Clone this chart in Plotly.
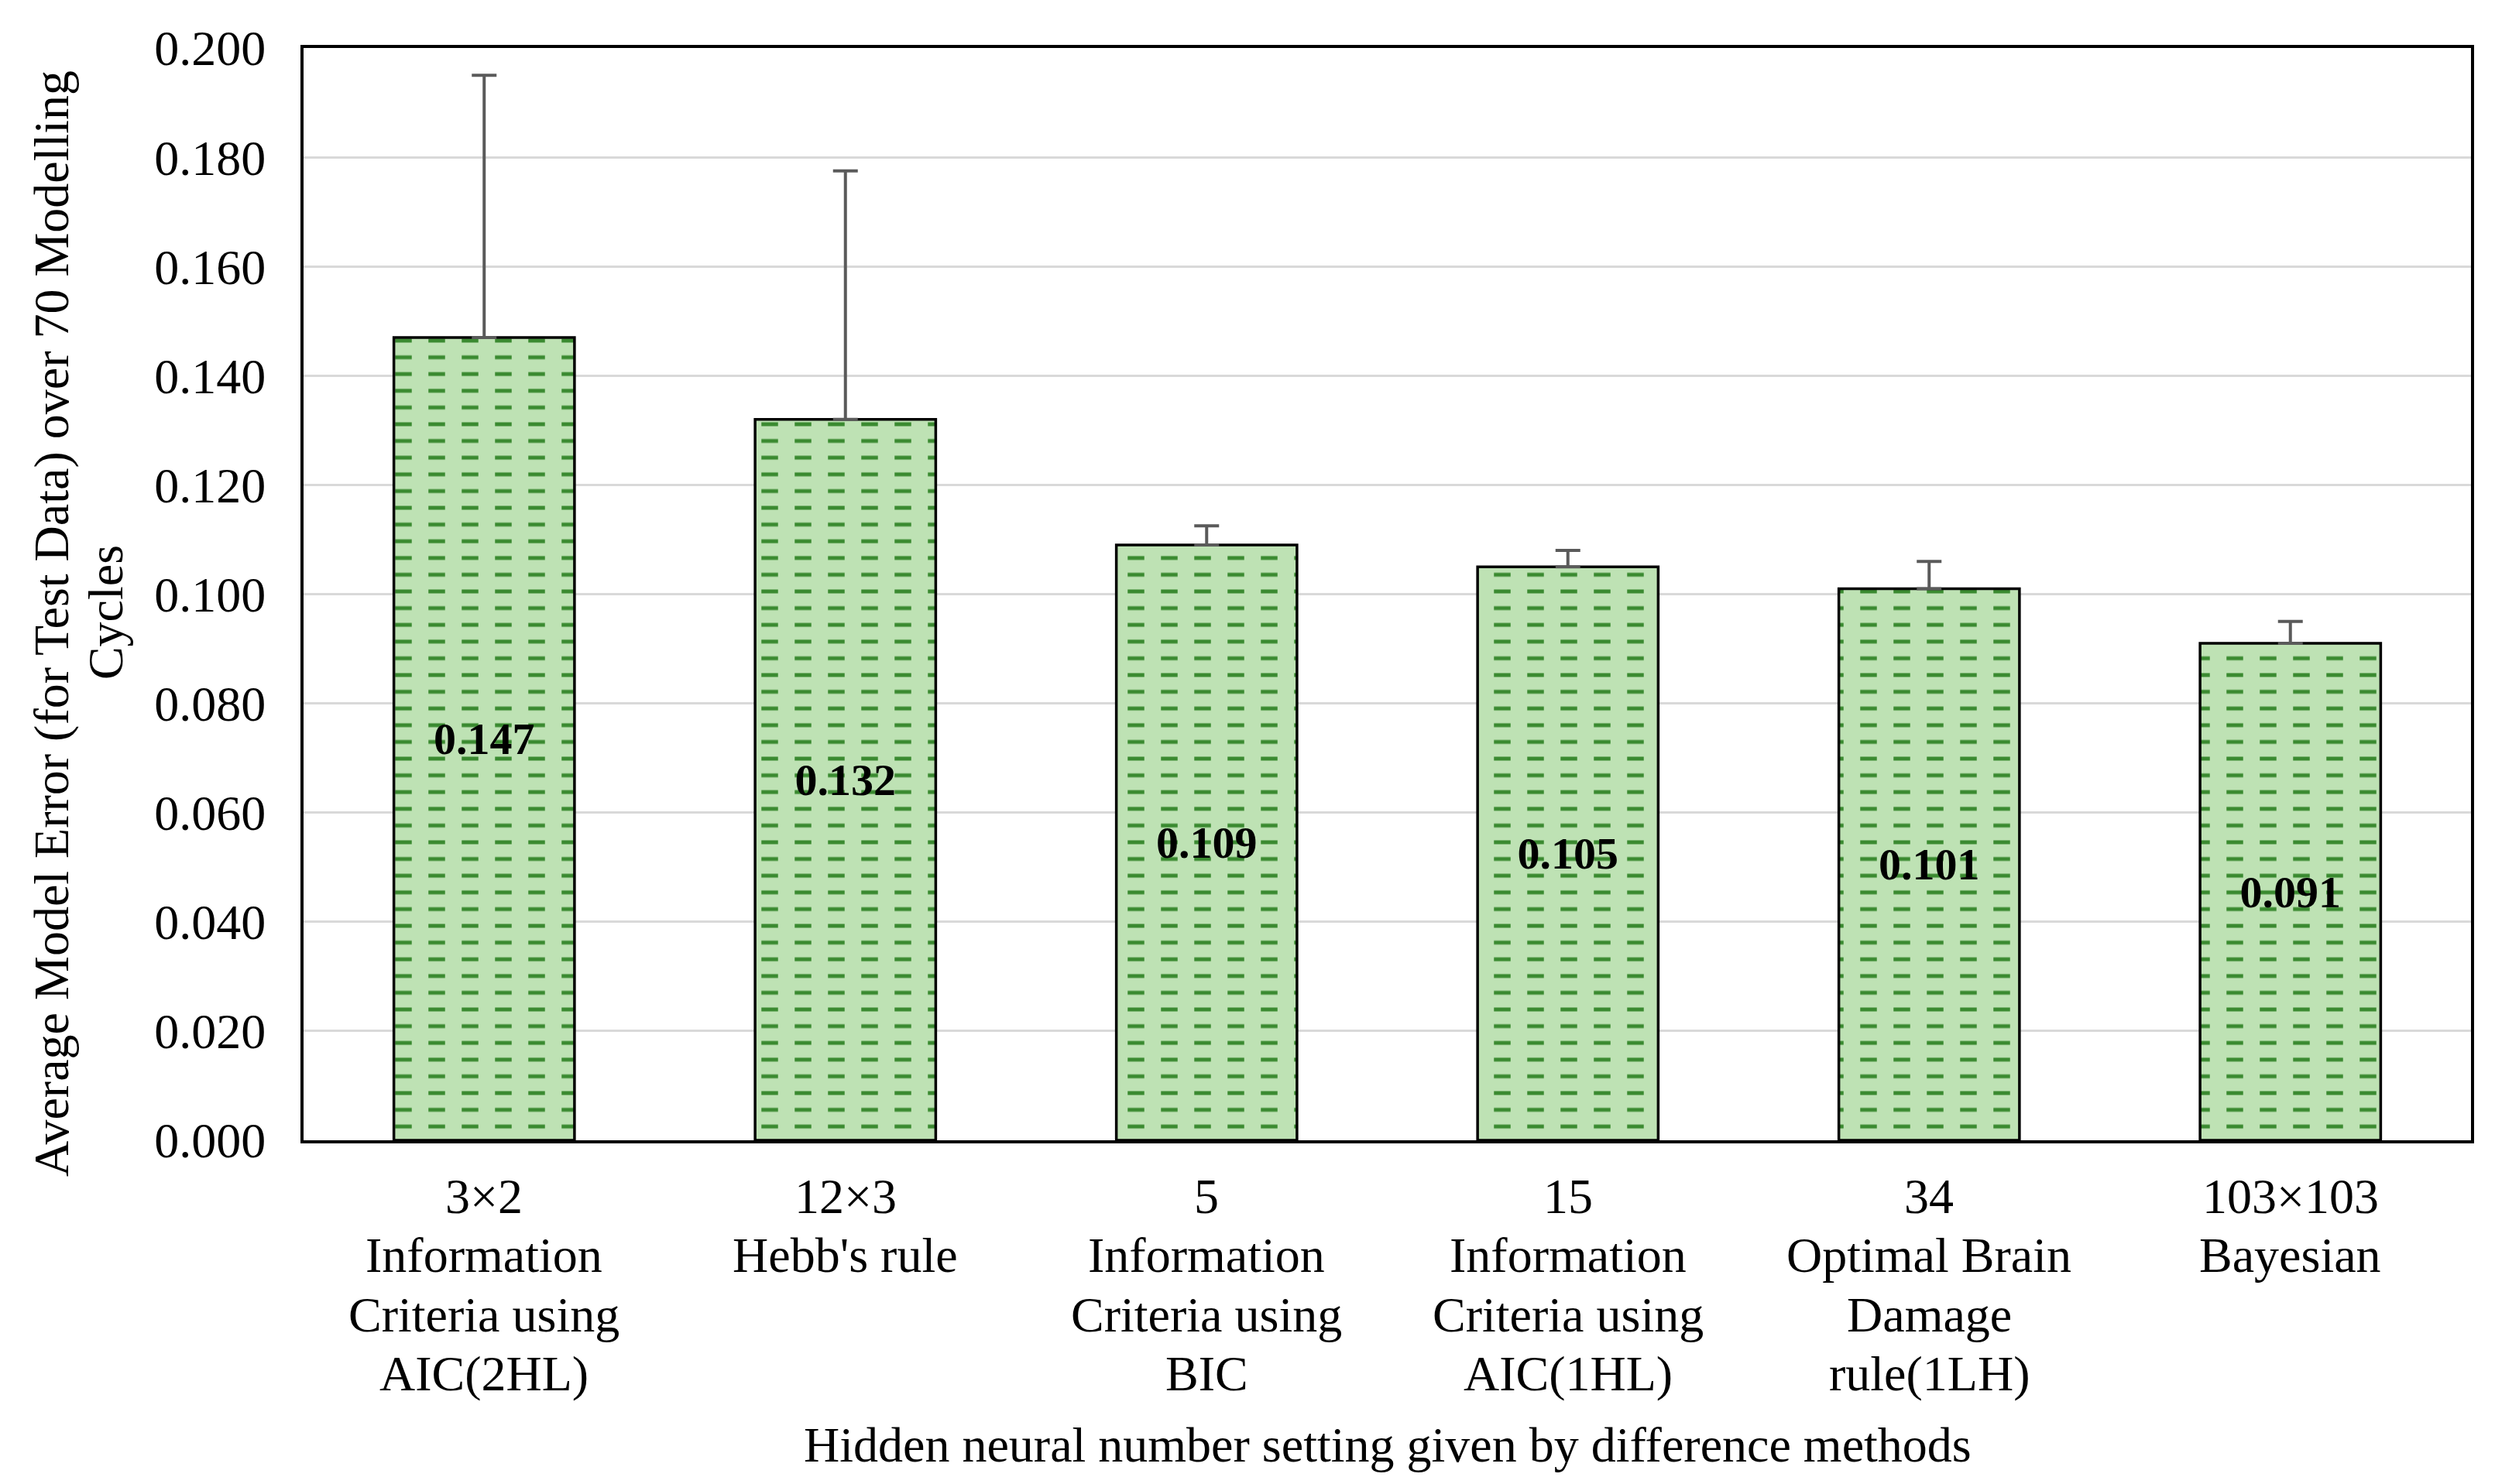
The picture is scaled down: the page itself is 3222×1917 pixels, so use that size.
import plotly.graph_objects as go

categories = [
    "3×2<br>Information<br>Criteria using<br>AIC(2HL)",
    "12×3<br>Hebb's rule",
    "5<br>Information<br>Criteria using<br>BIC",
    "15<br>Information<br>Criteria using<br>AIC(1HL)",
    "34<br>Optimal Brain<br>Damage<br>rule(1LH)",
    "103×103<br>Bayesian",
]
values = [0.147, 0.132, 0.109, 0.105, 0.101, 0.091]
value_labels = ["0.147", "0.132", "0.109", "0.105", "0.101", "0.091"]
errors_plus = [0.048, 0.0455, 0.0035, 0.003, 0.005, 0.004]
errors_minus = [0, 0, 0, 0, 0, 0]
y_ticks = [0.0, 0.02, 0.04, 0.06, 0.08, 0.10, 0.12, 0.14, 0.16, 0.18, 0.20]
y_title_lines = ["Average Model Error (for Test Data) over 70 Modelling", "Cycles"]
x_title = "Hidden neural number setting given by difference methods"

FONT = "Liberation Serif, Times New Roman, serif"
LIGHT = "#bee2b4"
DARK = "#3a8a30"
FS = 64
LINE_STEP = 76.5

fig = go.Figure()
# base: light green with dark green horizontal lines
fig.add_trace(go.Bar(
    x=categories, y=values,
    marker=dict(color=LIGHT, line=dict(width=0),
                pattern=dict(shape="-", fgcolor=DARK, bgcolor=LIGHT,
                             size=21.6, solidity=0.23, fillmode="replace")),
    hoverinfo="skip", showlegend=False,
))
# overlay: light green vertical stripes break the lines into dashes
fig.add_trace(go.Bar(
    x=categories, y=values,
    marker=dict(color="rgba(0,0,0,0)", line=dict(width=3.5, color="black"),
                pattern=dict(shape="|", fgcolor=LIGHT, bgcolor="rgba(0,0,0,0)",
                             size=43, solidity=0.5, fillmode="replace")),
    error_y=dict(type="data", symmetric=False, array=errors_plus,
                 arrayminus=errors_minus, color="#5a5a5a", thickness=4, width=16),
    text=value_labels, textposition="inside", insidetextanchor="middle",
    textangle=0,
    textfont=dict(family=FONT, size=58, color="black", weight="bold"),
    showlegend=False,
))

annotations = []
# category labels, one annotation per line (tighter line spacing like the source)
for cat in categories:
    for i, line in enumerate(cat.split("<br>")):
        annotations.append(dict(
            text=line, x=cat, xref="x", y=0, yref="paper",
            yshift=-72 - LINE_STEP * i, xanchor="center", yanchor="middle",
            showarrow=False, font=dict(family=FONT, size=FS, color="black")))
# y-axis title (two lines)
annotations.append(dict(text=y_title_lines[0], xref="paper", yref="paper",
                        x=0, y=0.4727, xshift=-326, xanchor="center", yanchor="middle",
                        textangle=-90, showarrow=False,
                        font=dict(family=FONT, size=FS, color="black")))
annotations.append(dict(text=y_title_lines[1], xref="paper", yref="paper",
                        x=0, y=0.4833, xshift=-256, xanchor="center", yanchor="middle",
                        textangle=-90, showarrow=False,
                        font=dict(family=FONT, size=FS, color="black")))
# x-axis title
annotations.append(dict(text=x_title, xref="paper", yref="paper",
                        x=0.5, y=0, yshift=-393, xanchor="center", yanchor="middle",
                        showarrow=False, font=dict(family=FONT, size=FS, color="black")))

fig.update_layout(
    width=3206, height=1901,
    barmode="overlay", bargap=0.5,
    plot_bgcolor="white", paper_bgcolor="white",
    margin=dict(l=384, r=23, t=54, b=436),
    font=dict(family=FONT, size=FS, color="black"),
    annotations=annotations,
)
fig.update_xaxes(
    showline=True, linecolor="black", linewidth=4, mirror=True,
    ticks="", showticklabels=False,
)
fig.update_yaxes(
    range=[0, 0.2], tickvals=y_ticks, tickformat=".3f",
    showgrid=True, gridcolor="#d9d9d9", gridwidth=3,
    showline=True, linecolor="black", linewidth=4, mirror=True,
    ticks="", ticklabelstandoff=32, zeroline=False,
    tickfont=dict(family=FONT, size=FS, color="black"),
)

fig.write_html("out.html")
